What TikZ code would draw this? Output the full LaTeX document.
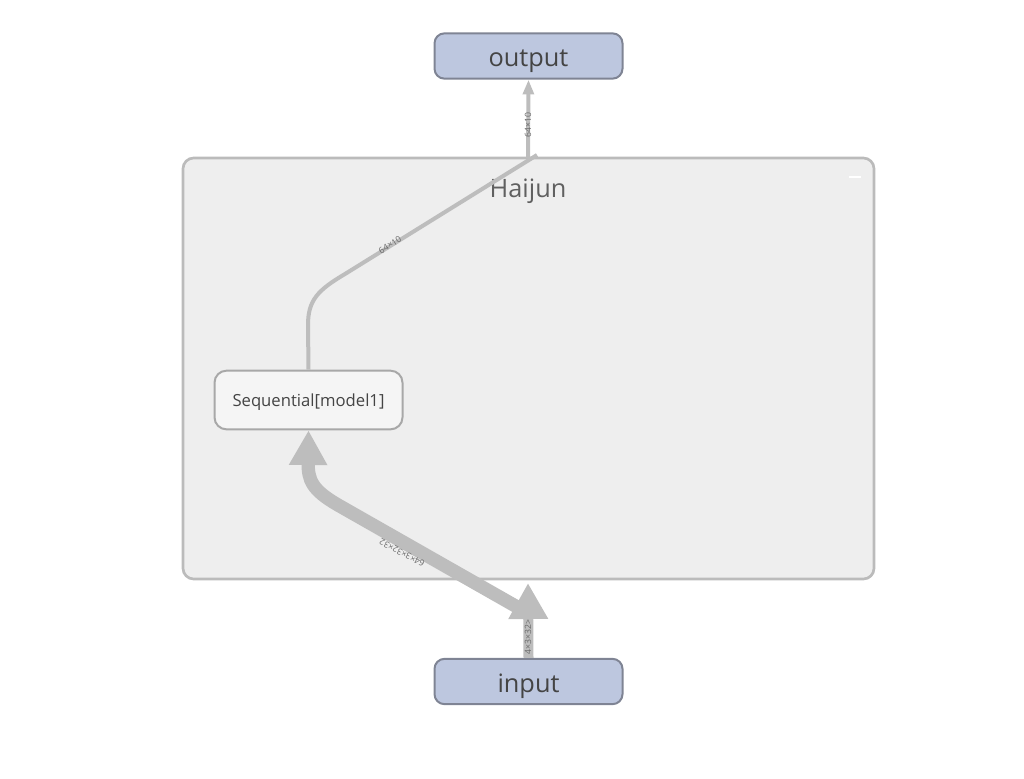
\documentclass[tikz,border=0pt]{standalone}
\usepackage{fontspec}
\setmainfont{Open Sans}
\usetikzlibrary{arrows.meta,positioning,calc}
\definecolor{opfill}{HTML}{BDC7DF}
\definecolor{opdraw}{HTML}{7F8494}
\definecolor{grpfill}{HTML}{EEEEEE}
\definecolor{grpdraw}{HTML}{BBBBBB}
\definecolor{edgecol}{HTML}{BDBDBD}
\definecolor{txtcol}{HTML}{444444}
\tikzset{io/.style={rectangle, rounded corners=7.5pt, minimum width=141pt, minimum height=34pt, text height=17pt, text depth=1pt, draw=opdraw, line width=1.5pt, fill=opfill, text=txtcol, font=\fontsize{19}{22}\selectfont},
  module/.style={rectangle, rounded corners=9pt, minimum width=141pt, minimum height=44pt, text height=11pt, text depth=1.5pt, draw=grpdraw!90!black, line width=1.5pt, fill=grpfill!60!white, text=txtcol, font=\fontsize{12.5}{15}\selectfont},
  flow/.style={draw=edgecol, line cap=butt},
  dim/.style={font=\fontsize{6.5}{7}\selectfont, text=txtcol!80, inner sep=0.5pt}}

\begin{document}
\begin{tikzpicture}[x=0.75pt,y=-0.75pt]
	\useasboundingbox (0,0) rectangle (1024,778);
	% group box
	\draw[fill=grpfill, draw=grpdraw, line width=2pt, rounded corners=8pt] (183,158) rectangle (874,579);
	\node[text=txtcol!85, font=\fontsize{19}{22}\selectfont] (grp) at (528,191) {Haijun};
	\draw[white, line width=1.5pt] (849,177) -- (861,177);
	% nodes
	\node[io] (out) at (528.5,56) {output};
	\node[io] (in) at (528.5,681.5) {input};
	\node[module] (seq) at (308.5,400) {Sequential[model1]};
	\coordinate (gtop) at (528,158);
	\coordinate (gjoin) at (537,155);
	\coordinate (gbot) at (528,583);
	\coordinate (gin) at (526,612);
	% edges
	\draw[flow, line width=3pt, -{Triangle[length=11pt,width=8pt]}] (gtop) -- (out.south);
	\draw[flow, line width=3pt] (seq.north) -- (308,325) .. controls (308,300) and (318,290) .. (345,274) -- (gjoin);
	\draw[flow, line width=7.5pt, -{Triangle[length=27pt,width=28pt]}] (in.north) -- (gbot);
	\draw[flow, line width=10pt, -{Triangle[length=26pt,width=27pt]}] (gin) -- (338,505) .. controls (312,490) and (308,480) .. (seq.south);
	% sizes
	\node[dim, rotate=90] at (528,125) {64×10};
	\node[dim, rotate=32] at (390,245) {64×10};
	\node[dim, rotate=152] at (402,553) {64×3×32×32};
	\node[dim, rotate=90] at (528,637) {4×3×32>};
\end{tikzpicture}
\end{document}
